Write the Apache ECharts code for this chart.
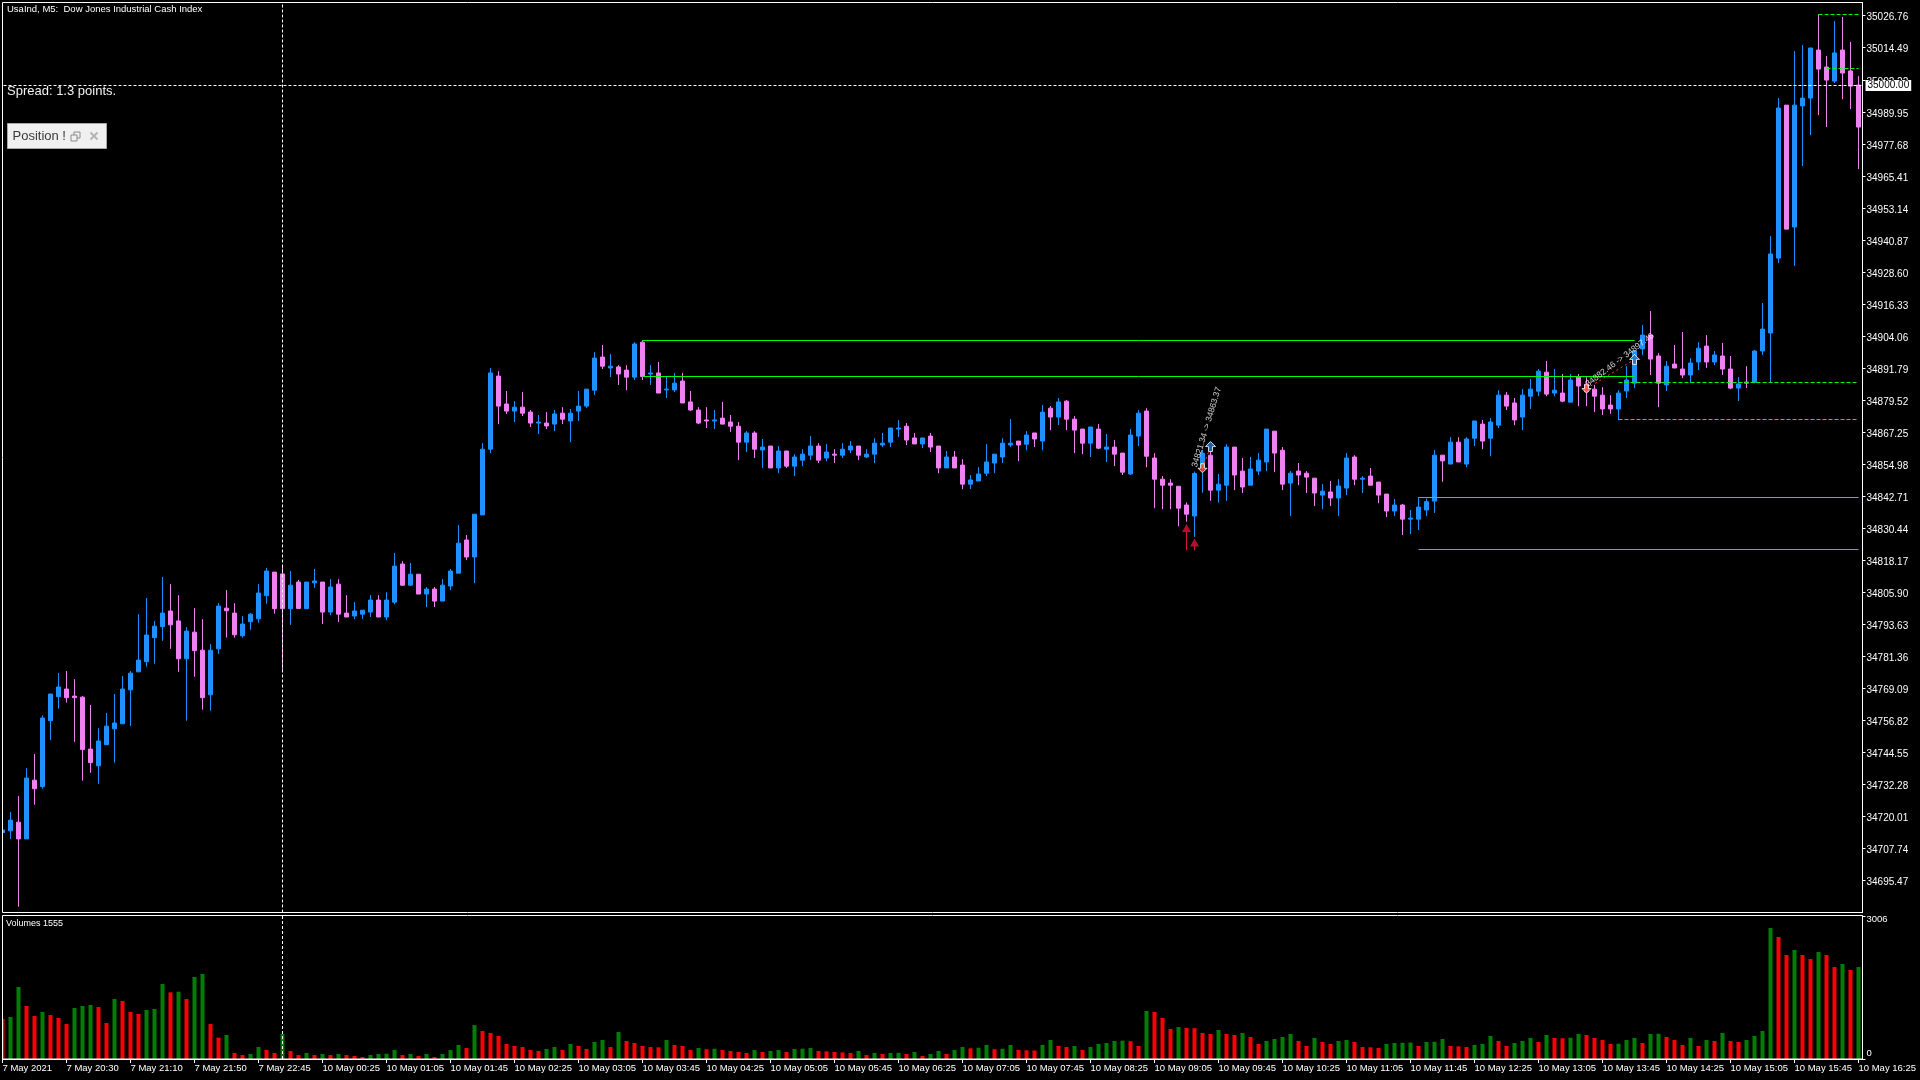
<!DOCTYPE html>
<html><head><meta charset="utf-8">
<script src="https://cdn.jsdelivr.net/npm/echarts@6/dist/echarts.min.js"></script>
<style>html,body{margin:0;padding:0;background:#000;}#c{width:1920px;height:1080px;}</style>
</head><body><div id="c"></div>
<script>
const timeLabels = ["7 May 2021","7 May 20:30","7 May 21:10","7 May 21:50","7 May 22:45","10 May 00:25","10 May 01:05","10 May 01:45","10 May 02:25","10 May 03:05","10 May 03:45","10 May 04:25","10 May 05:05","10 May 05:45","10 May 06:25","10 May 07:05","10 May 07:45","10 May 08:25","10 May 09:05","10 May 09:45","10 May 10:25","10 May 11:05","10 May 11:45","10 May 12:25","10 May 13:05","10 May 13:45","10 May 14:25","10 May 15:05","10 May 15:45","10 May 16:25"];

// [open, high, low, close]
const ohlc = [
[34713.8,34716.0,34712.0,34714.8],[34714.5,34721.7,34711.4,34718.6],[34717.8,34727.8,34685.4,34711.4],[34711.4,34738.5,34711.4,34734.7],
[34733.9,34743.9,34724.5,34730.6],[34731.4,34758.7,34730.6,34757.7],[34756.7,34766.9,34749.3,34766.9],[34765.9,34774.9,34761.3,34769.6],
[34768.8,34775.7,34763.6,34765.5],[34766.1,34772.6,34748.6,34765.5],[34765.7,34766.1,34733.7,34745.6],[34745.8,34762.7,34736.7,34740.6],
[34739.4,34753.8,34732.5,34748.9],[34747.5,34759.6,34747.5,34754.6],[34753.6,34766.9,34740.6,34755.8],[34755.5,34773.8,34755.5,34768.8],
[34768.5,34775.7,34754.7,34774.9],[34775.4,34797.5,34775.4,34779.9],[34779.3,34803.7,34777.4,34789.5],[34788.5,34794.9,34778.5,34792.9],
[34792.7,34811.7,34787.3,34797.9],[34798.7,34809.0,34784.2,34793.4],[34794.9,34804.8,34775.4,34780.4],[34780.4,34792.5,34756.7,34791.0],
[34790.6,34799.8,34773.5,34783.5],[34783.7,34795.6,34760.9,34765.5],[34766.6,34786.0,34760.5,34783.7],[34784.2,34801.7,34782.3,34800.6],
[34799.8,34806.7,34788.5,34798.8],[34797.9,34801.7,34788.5,34789.6],[34789.2,34796.8,34788.5,34793.7],[34794.6,34797.9,34791.5,34797.5],
[34795.7,34809.0,34794.2,34805.6],[34804.6,34815.2,34801.5,34814.0],[34813.6,34813.6,34797.7,34799.6],[34812.9,34815.9,34775.8,34799.6],
[34799.6,34814.0,34793.4,34808.6],[34809.8,34810.6,34799.6,34799.7],[34799.6,34809.8,34799.6,34809.8],[34809.5,34814.8,34807.6,34810.2],
[34809.8,34809.8,34793.7,34798.3],[34798.3,34810.9,34797.1,34807.9],[34809.0,34810.9,34794.5,34797.5],[34797.9,34804.8,34796.4,34796.4],
[34796.8,34802.1,34795.6,34798.7],[34797.5,34799.0,34795.6,34799.0],[34798.3,34804.8,34796.4,34802.9],[34802.9,34804.8,34796.4,34796.4],
[34796.4,34805.9,34795.2,34802.9],[34802.1,34820.9,34801.3,34815.9],[34816.7,34817.8,34808.3,34808.6],[34808.6,34817.1,34808.3,34812.8],
[34812.8,34812.8,34805.2,34805.2],[34805.2,34807.9,34800.2,34807.1],[34807.1,34807.9,34800.2,34802.5],[34802.5,34810.9,34802.5,34808.6],
[34808.3,34814.8,34806.7,34814.0],[34813.2,34831.6,34813.2,34824.7],[34825.9,34827.8,34818.2,34819.4],[34819.4,34835.8,34809.4,34835.8],
[34835.5,34863.0,34835.5,34860.7],[34860.7,34891.8,34859.2,34889.9],[34888.7,34890.6,34870.3,34877.2],[34878.0,34883.0,34874.2,34875.3],
[34875.3,34879.1,34871.1,34876.8],[34876.8,34882.6,34873.4,34874.5],[34874.9,34875.7,34869.2,34870.7],[34870.7,34873.8,34866.5,34871.1],
[34870.7,34874.9,34868.4,34869.6],[34870.3,34875.7,34867.6,34874.2],[34874.5,34876.8,34870.3,34872.2],[34871.5,34876.1,34863.4,34874.5],
[34875.3,34883.0,34871.5,34877.2],[34877.2,34883.7,34876.5,34883.7],[34883.3,34897.9,34881.4,34895.6],[34896.0,34900.6,34891.4,34892.5],
[34891.8,34897.1,34888.3,34892.5],[34892.2,34892.9,34885.3,34889.5],[34891.0,34892.9,34883.3,34888.3],[34888.3,34901.7,34887.2,34901.0],
[34901.7,34902.5,34887.2,34888.5],[34889.5,34892.9,34885.3,34889.9],[34889.9,34894.1,34882.2,34882.2],[34883.4,34888.7,34880.3,34883.7],
[34883.4,34889.9,34882.6,34886.0],[34886.8,34889.9,34878.4,34878.4],[34878.8,34883.0,34875.3,34875.7],[34875.7,34876.8,34870.3,34870.7],
[34871.9,34876.8,34868.8,34871.5],[34871.5,34875.7,34868.4,34871.9],[34872.6,34878.8,34870.3,34870.3],[34871.1,34873.8,34867.3,34869.5],
[34869.5,34871.1,34856.5,34863.4],[34863.4,34867.6,34859.6,34866.9],[34866.9,34867.6,34857.3,34860.7],[34860.4,34864.6,34853.5,34861.5],
[34861.9,34861.9,34853.5,34853.5],[34853.5,34861.9,34851.5,34860.0],[34860.0,34860.0,34853.5,34854.2],[34854.2,34858.8,34850.4,34857.7],
[34856.5,34860.7,34854.2,34858.8],[34858.4,34865.7,34856.5,34861.9],[34861.9,34863.0,34855.4,34856.5],[34857.3,34862.7,34856.1,34859.6],
[34858.8,34860.7,34855.4,34858.4],[34858.4,34863.0,34857.3,34860.7],[34860.4,34863.8,34859.2,34861.9],[34861.9,34861.9,34856.5,34858.4],
[34857.7,34860.7,34857.3,34858.8],[34858.8,34864.9,34855.4,34863.0],[34862.3,34866.9,34861.5,34863.0],[34863.4,34868.8,34861.5,34868.8],
[34868.4,34871.9,34865.3,34868.8],[34869.5,34870.7,34862.3,34864.2],[34865.0,34866.9,34862.7,34862.7],[34862.7,34865.0,34861.1,34865.0],
[34865.7,34866.9,34859.6,34861.5],[34861.9,34861.9,34851.5,34853.5],[34853.5,34860.0,34853.5,34857.7],[34857.7,34860.0,34853.5,34853.5],
[34854.6,34856.9,34845.4,34847.3],[34847.3,34850.8,34845.4,34848.9],[34848.5,34853.8,34848.5,34851.2],[34851.5,34862.6,34850.4,34855.8],
[34855.4,34858.8,34851.5,34858.8],[34857.7,34864.9,34855.4,34863.0],[34862.3,34872.2,34861.5,34863.0],[34863.8,34863.8,34856.1,34862.3],
[34862.6,34867.6,34860.3,34866.1],[34866.9,34866.9,34861.5,34864.6],[34863.8,34877.6,34860.3,34874.9],[34876.4,34877.2,34868.0,34873.0],
[34873.0,34880.3,34869.9,34878.8],[34879.1,34879.5,34868.0,34872.2],[34872.2,34873.4,34859.2,34868.0],[34868.4,34868.4,34858.8,34863.0],
[34863.0,34869.2,34857.7,34869.2],[34868.4,34870.3,34860.7,34861.1],[34860.7,34866.5,34855.8,34861.5],[34861.5,34864.2,34854.2,34858.8],
[34859.2,34859.2,34850.8,34851.9],[34851.2,34868.4,34850.8,34866.1],[34865.7,34875.7,34861.9,34874.5],[34875.3,34876.4,34853.8,34858.0],
[34857.3,34859.2,34838.1,34849.2],[34849.2,34850.4,34837.7,34846.9],[34847.7,34849.2,34837.7,34846.9],[34846.5,34846.5,34831.2,34838.1],
[34839.3,34840.3,34832.9,34835.8],[34835.1,34852.1,34827.1,34851.4],[34853.5,34860.4,34844.0,34859.1],[34858.4,34859.7,34840.9,34845.0],
[34845.0,34851.2,34840.2,34847.3],[34846.9,34862.6,34840.9,34861.5],[34861.5,34861.5,34845.0,34850.8],[34852.3,34857.3,34843.9,34846.2],
[34846.9,34857.7,34846.9,34853.1],[34852.3,34859.2,34850.8,34856.5],[34855.8,34868.4,34852.3,34868.4],[34867.6,34867.6,34851.9,34859.2],
[34860.3,34861.5,34845.0,34847.3],[34847.7,34852.3,34835.1,34851.5],[34852.3,34855.4,34846.9,34850.8],[34851.5,34852.3,34843.9,34850.0],
[34849.6,34849.6,34838.9,34843.9],[34843.1,34847.3,34837.7,34844.6],[34844.3,34848.5,34838.9,34842.0],[34842.0,34849.2,34835.1,34846.6],
[34845.8,34859.2,34843.1,34857.3],[34857.7,34858.4,34846.9,34849.2],[34849.2,34850.4,34843.9,34849.6],[34850.4,34853.5,34846.9,34846.9],
[34848.1,34848.1,34840.0,34843.1],[34843.5,34843.5,34834.7,34837.0],[34837.0,34841.6,34835.1,34839.3],[34839.3,34839.7,34827.8,34833.9],
[34833.9,34837.4,34828.2,34834.3],[34833.9,34842.3,34829.7,34838.5],[34837.4,34841.8,34835.1,34840.6],[34840.8,34860.4,34836.3,34858.4],
[34858.4,34858.4,34848.2,34856.2],[34855.0,34865.3,34855.0,34863.4],[34863.4,34865.3,34855.8,34855.8],[34855.0,34865.3,34853.8,34864.6],
[34864.9,34871.5,34861.9,34871.5],[34870.3,34871.9,34860.7,34863.8],[34864.9,34872.6,34858.0,34871.1],[34869.9,34883.3,34868.8,34881.4],
[34881.4,34882.6,34875.7,34877.2],[34878.4,34880.3,34869.9,34871.9],[34873.0,34883.7,34868.0,34881.4],[34881.0,34887.6,34876.1,34883.7],
[34882.9,34891.4,34881.0,34890.6],[34890.2,34894.5,34881.0,34881.8],[34882.2,34891.4,34881.0,34883.3],[34882.2,34889.5,34878.7,34879.1],
[34878.7,34889.5,34878.7,34887.2],[34888.3,34889.5,34877.2,34884.9],[34885.3,34888.3,34877.2,34882.7],[34883.7,34885.3,34874.9,34881.0],
[34881.4,34884.5,34873.8,34876.1],[34877.6,34881.4,34874.2,34876.1],[34876.1,34883.3,34871.9,34882.2],[34883.0,34892.5,34880.3,34887.2],
[34886.0,34898.7,34884.1,34898.3],[34899.1,34908.3,34896.7,34904.4],[34904.4,34913.6,34889.1,34895.2],[34896.4,34897.5,34876.8,34886.0],
[34885.3,34894.5,34883.0,34892.5],[34893.3,34900.6,34891.8,34891.8],[34891.4,34905.6,34887.9,34889.1],[34889.1,34895.6,34886.0,34893.7],
[34894.1,34901.7,34891.0,34899.4],[34900.2,34904.4,34891.8,34894.1],[34894.1,34898.3,34892.9,34896.8],[34896.4,34901.4,34889.1,34891.4],
[34891.4,34896.4,34883.7,34884.1],[34884.1,34888.3,34879.1,34885.7],[34886.4,34892.5,34884.1,34886.0],[34886.2,34898.7,34886.0,34898.3],
[34898.3,34916.7,34896.8,34906.7],[34905.2,34942.3,34886.3,34935.5],[34933.9,34995.2,34932.0,34991.4],[34992.5,34992.5,34945.0,34945.0],
[34945.8,35013.2,34930.9,34992.5],[34992.2,35015.5,34969.2,34995.2],[34995.2,35014.4,34981.0,35014.4],[35013.6,35027.4,34988.7,35006.3],
[35007.1,35011.3,34984.1,35002.1],[35001.7,35024.7,35001.0,35012.5],[35013.6,35026.3,34994.8,35004.8],[35005.6,35016.7,34991.0,34999.8],
[35000.2,35003.6,34968.0,34984.1]
];

const volumes = [
841,883,1513,1114,904,988,925,862,735,1072,1114,1135,1093,757,1261,1219,988,946,1030,1051,
1576,1401,1415,1261,1724,1787,735,449,505,126,84,105,252,190,126,526,169,84,126,84,
105,84,105,84,63,42,84,105,110,190,84,105,63,105,42,105,190,294,231,714,
589,547,484,315,273,252,190,169,211,252,190,315,273,211,357,399,252,568,378,336,
273,252,245,399,294,273,190,231,206,215,190,169,147,126,190,147,169,190,147,211,
216,231,169,160,147,139,126,169,84,126,105,126,130,105,147,63,105,169,105,190,
252,224,236,294,206,215,294,190,183,179,294,399,273,252,273,190,252,315,336,378,
385,374,273,1009,988,862,631,672,651,646,547,526,610,526,505,547,463,315,378,420,
463,526,378,273,441,357,315,378,399,357,252,245,231,315,336,341,345,273,357,362,
420,273,267,252,294,315,484,378,273,336,378,441,357,505,441,436,447,526,505,441,
399,315,321,399,441,336,526,531,463,399,294,441,273,399,378,547,378,357,399,484,
589,2753,2565,2186,2292,2186,2102,2249,2186,1933,1997,1871,1933
];

// price tick grid of the MT5 scale
const priceTickStart = 34683.20, priceTickStep = 12.27, priceTop = 35031.82;
const volumeAxisMax = 3006;

// [fromIndex, toIndex, price]
const solidLevels = [[80, 204, 34902.4], [80, 204, 34888.6], [177, 232, 34842.2], [177, 232, 34822.3]];
const dashedLevels = [[227, 232, 35027.3], [228, 232, 35006.6], [202, 232, 34886.3], [202, 232, 34872.2]];
const crossIndex = 35, crossPrice = 35000;

const entryArrows = [[148, 34830.5], [149, 34824.9]];
const entryStems = [[148, 34829.3, 34822.0], [149, 34823.7, 34822.0]];
const openMarkers = [[150, 34853.4], [198, 34883.9]];
const closeMarkers = [[151, 34861.7], [204, 34895.1]];
const dealTexts = [[149, 34853.8, '34821.34 -> 34863.37'], [198, 34885.3, '34882.46 -> 34897.46']];
const dealTextAngles = [73, 37];

const F = 'Liberation Sans';
const cats = ohlc.map((_, i) => String(i));
const candleData = ohlc.map(r => [r[0], r[3], r[2], r[1]]);
const volData = volumes.map((v, i) => ({
  value: v,
  itemStyle: { color: (i > 0 && v > volumes[i - 1]) ? '#008000' : '#ff0000' }
}));

const segs = (arr, style) => arr.map(([a, b, p]) => [{ coord: [a, p], lineStyle: style }, { coord: [b, p] }]);

const chart = echarts.init(document.getElementById('c'), null, { renderer: 'canvas', width: 1920, height: 1080 });
chart.setOption({
  backgroundColor: '#000',
  animation: false,
  grid: [
    { left: -1.5, width: 1864, top: 2.5, height: 910, outerBoundsMode: 'none', containLabel: false },
    { left: -1.5, width: 1864, top: 916, height: 143, outerBoundsMode: 'none', containLabel: false }
  ],
  xAxis: [
    { type: 'category', gridIndex: 0, data: cats, boundaryGap: true,
      axisLine: { show: false }, axisTick: { show: false }, axisLabel: { show: false }, splitLine: { show: false } },
    { type: 'category', gridIndex: 1, data: cats, boundaryGap: true,
      axisLine: { show: true, lineStyle: { color: '#fff', width: 1 } },
      axisTick: { show: true, alignWithLabel: true, interval: 7, length: 4, lineStyle: { color: '#fff' } },
      axisLabel: { show: true, interval: 7, align: 'left', color: '#fff', fontSize: 9.5, fontFamily: F, margin: 4,
        formatter: (v, idx) => timeLabels[Math.round(idx / 8)] || '' },
      splitLine: { show: false } }
  ],
  yAxis: [
    { type: 'value', gridIndex: 0, position: 'right', min: priceTickStart, max: priceTop, interval: priceTickStep,
      axisLine: { show: true, lineStyle: { color: '#fff' } },
      axisTick: { show: true, inside: false, length: 3, lineStyle: { color: '#fff' } },
      axisLabel: { show: true, color: '#fff', fontSize: 10, fontFamily: F, margin: 4, showMinLabel: false, showMaxLabel: false,
        formatter: v => '{p|' + v.toFixed(2) + '}',
        rich: { p: { color: '#fff', fontSize: 10, fontFamily: F, padding: [4, 0, 0, 0] } } },
      splitLine: { show: false } },
    { type: 'value', gridIndex: 1, position: 'right', min: 0, max: volumeAxisMax, interval: volumeAxisMax,
      axisLine: { show: true, lineStyle: { color: '#fff' } },
      axisTick: { show: true, length: 3, lineStyle: { color: '#fff' } },
      axisLabel: { show: true, color: '#fff', fontSize: 9.5, fontFamily: F, margin: 4, showMinLabel: true, showMaxLabel: true,
        formatter: v => v === 0 ? '{b|0}' : (v === volumeAxisMax ? '{t|' + volumeAxisMax + '}' : ''),
        rich: {
          t: { color: '#fff', fontSize: 9.5, fontFamily: F, padding: [7, 0, 0, 0] },
          b: { color: '#fff', fontSize: 9.5, fontFamily: F, padding: [0, 0, 12, 0] }
        } },
      splitLine: { show: false } }
  ],
  series: [
    { type: 'candlestick', xAxisIndex: 0, yAxisIndex: 0, data: candleData, barWidth: 4,
      itemStyle: { color: '#1E90FF', color0: '#EE82EE', borderColor: '#1E90FF', borderColor0: '#EE82EE', borderWidth: 1 },
      markLine: {
        symbol: ['none', 'none'], silent: true, animation: false,
        label: { show: false },
        lineStyle: { width: 1 },
        data: [
          ...segs(solidLevels, { color: '#00ff00', type: 'solid', width: 1 }),
          ...segs(dashedLevels, { color: '#00ff00', type: [4, 2], width: 1 }),
          { yAxis: crossPrice, lineStyle: { color: '#ffffff', type: [3, 2], width: 1 },
            label: { show: true, position: 'end', distance: 3, formatter: crossPrice.toFixed(2), color: '#000',
              backgroundColor: '#fff', padding: [1, 2, 0, 2], fontSize: 10, fontFamily: F } },
          { xAxis: crossIndex, lineStyle: { color: '#ffffff', type: [3, 2], width: 1 } }
        ]
      } },
    { type: 'bar', xAxisIndex: 1, yAxisIndex: 1, data: volData, barWidth: 4,
      markLine: { symbol: ['none', 'none'], silent: true, label: { show: false },
        data: [{ xAxis: crossIndex, lineStyle: { color: '#ffffff', type: [3, 2], width: 1 } }] } },
    { type: 'scatter', xAxisIndex: 0, yAxisIndex: 0, data: entryArrows, symbol: 'triangle', symbolSize: [9, 8],
      itemStyle: { color: '#dc143c' }, z: 5, silent: true,
      markLine: { symbol: ['none', 'none'], silent: true, label: { show: false },
        lineStyle: { color: '#dc143c', type: 'solid', width: 1 },
        data: entryStems.map(([i, a, b]) => [{ coord: [i, a] }, { coord: [i, b] }]) } },
    { type: 'scatter', xAxisIndex: 0, yAxisIndex: 0, data: openMarkers,
      symbol: 'path://M3,0 L7,0 L7,5 L10,5 L5,10 L0,5 L3,5 Z', symbolSize: [9, 9],
      itemStyle: { color: '#ff4a1a', borderColor: '#ffffff', borderWidth: 1 }, z: 6, silent: true,
      markLine: { symbol: ['none', 'none'], silent: true, label: { show: false },
        lineStyle: { color: '#ff3b1f', type: [2, 3], width: 1 },
        data: openMarkers.map((p, k) => [{ coord: p }, { coord: closeMarkers[k] }]) } },
    { type: 'scatter', xAxisIndex: 0, yAxisIndex: 0, data: closeMarkers,
      symbol: 'path://M5,0 L10,5 L7,5 L7,10 L3,10 L3,5 L0,5 Z', symbolSize: [10, 10],
      itemStyle: { color: '#2378d0', borderColor: '#ffffff', borderWidth: 1 }, z: 6, silent: true },
    { type: 'scatter', xAxisIndex: 0, yAxisIndex: 0, silent: true, z: 7,
      data: dealTexts.map((t, k) => ({ value: [t[0], t[1]], label: { rotate: dealTextAngles[k], formatter: t[2] } })),
      symbolSize: 1, itemStyle: { color: 'rgba(0,0,0,0)' },
      label: { show: true, position: 'inside', align: 'left', verticalAlign: 'middle', color: '#fff', fontSize: 8.5, fontFamily: F } }
  ],
  graphic: [
    { type: 'rect', z: 50, silent: true, shape: { x: 0, y: 0, width: 2, height: 1080 }, style: { fill: '#000' } },
    { type: 'rect', z: 100, silent: true, shape: { x: 2.5, y: 2.5, width: 1860, height: 910 }, style: { fill: 'none', stroke: '#fff', lineWidth: 1 } },
    { type: 'rect', z: 100, silent: true, shape: { x: 2.5, y: 915.5, width: 1860, height: 143.5 }, style: { fill: 'none', stroke: '#fff', lineWidth: 1 } },
    { type: 'text', z: 100, silent: true, x: 7, y: 9.5,
      style: { text: 'UsaInd, M5:  Dow Jones Industrial Cash Index', fill: '#fff', fontSize: 9.5, fontFamily: F, verticalAlign: 'middle' } },
    { type: 'text', z: 100, silent: true, x: 7, y: 91.5,
      style: { text: 'Spread: 1.3 points.', fill: '#f2f2f2', fontSize: 13, fontFamily: F, verticalAlign: 'middle' } },
    { type: 'text', z: 100, silent: true, x: 6, y: 923.5,
      style: { text: 'Volumes 1555', fill: '#fff', fontSize: 9, fontFamily: F, verticalAlign: 'middle' } },
    { type: 'group', x: 7.5, y: 123.5, z: 100, silent: true, children: [
      { type: 'rect', shape: { x: 0, y: 0, width: 99, height: 25 }, style: { fill: '#f0f0f0', stroke: '#a8a8a8', lineWidth: 1 } },
      { type: 'text', x: 5, y: 13, style: { text: 'Position !', fill: '#3a3a3a', fontSize: 13, fontFamily: F, verticalAlign: 'middle' } },
      { type: 'rect', shape: { x: 63.5, y: 11.5, width: 6, height: 6 }, style: { fill: 'none', stroke: '#8a8a8a', lineWidth: 1 } },
      { type: 'polyline', shape: { points: [[66.5, 11.5], [66.5, 8.5], [72.5, 8.5], [72.5, 14.5], [69.5, 14.5]] }, style: { fill: 'none', stroke: '#8a8a8a', lineWidth: 1 } },
      { type: 'line', shape: { x1: 83, y1: 9, x2: 90, y2: 16 }, style: { stroke: '#b4b4b4', lineWidth: 2 } },
      { type: 'line', shape: { x1: 90, y1: 9, x2: 83, y2: 16 }, style: { stroke: '#b4b4b4', lineWidth: 2 } }
    ] }
  ]
});
</script>
</body></html>
